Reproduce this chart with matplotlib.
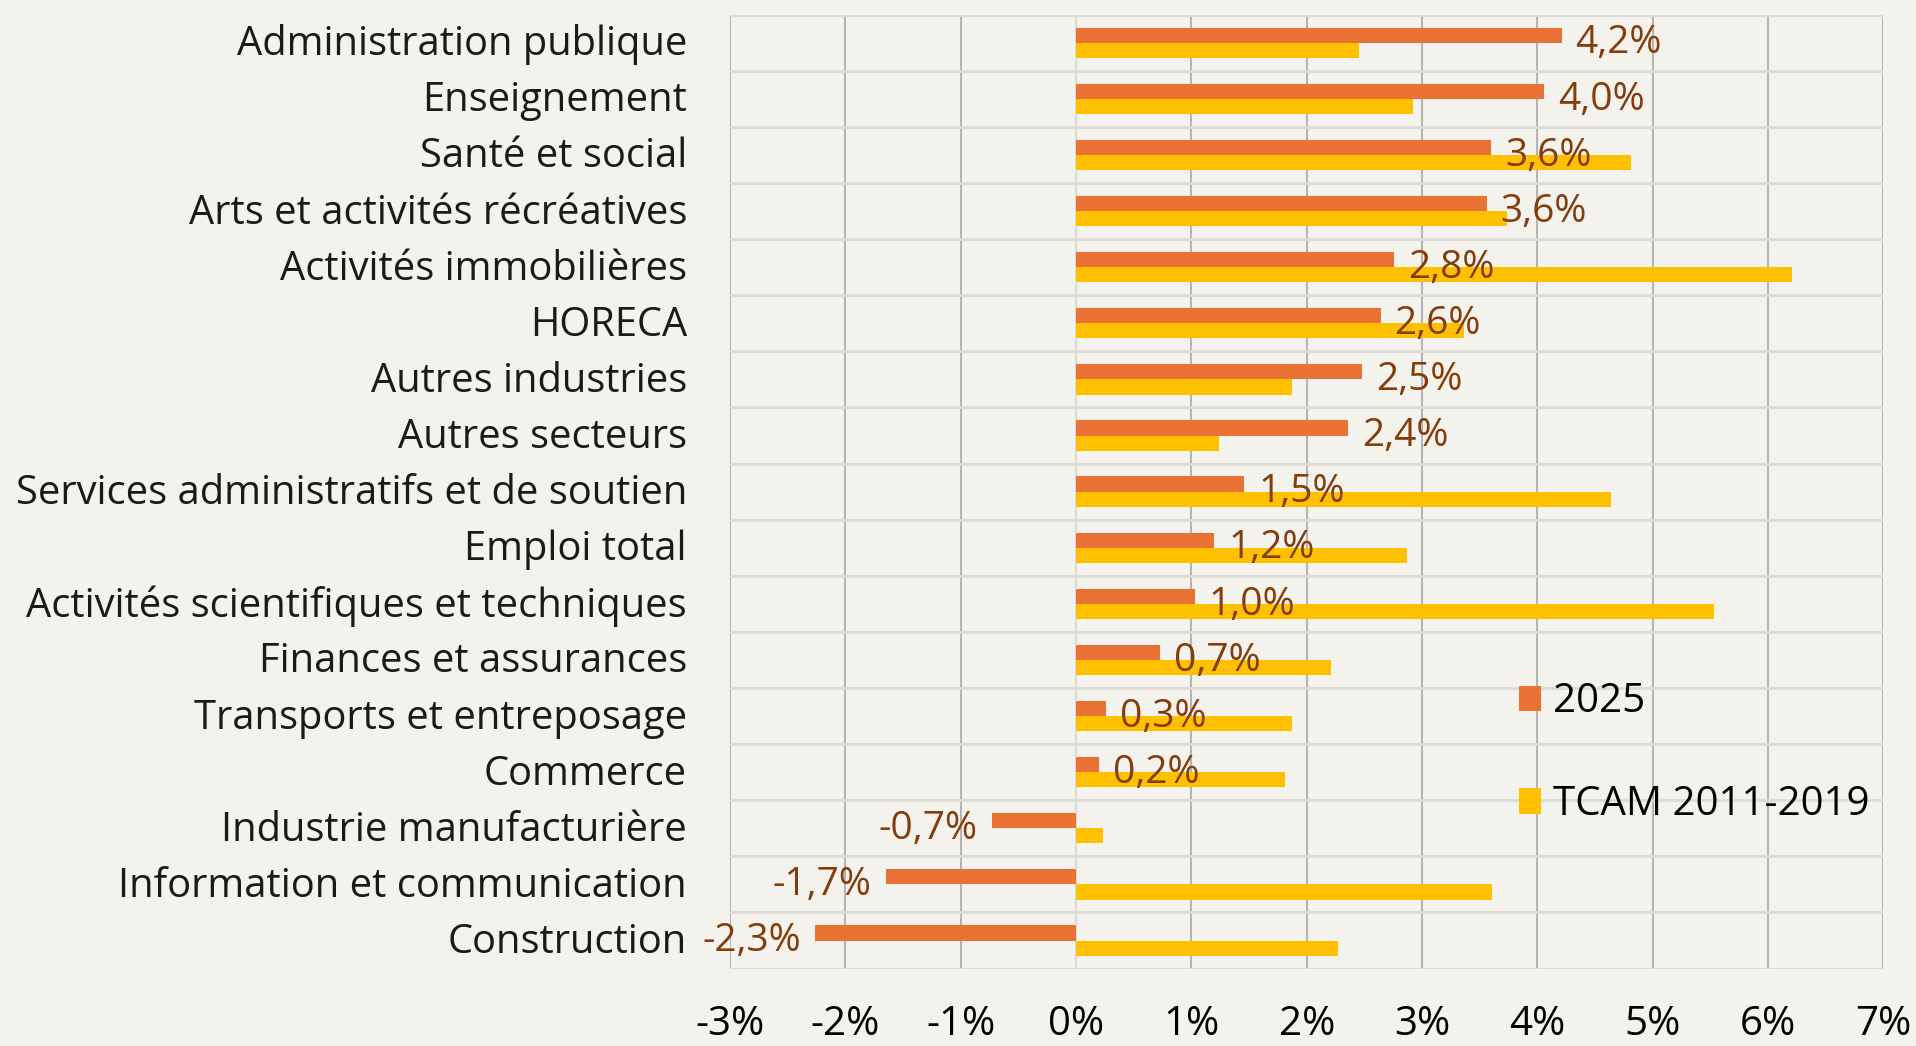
import matplotlib.pyplot as plt
from matplotlib.ticker import FixedLocator
from matplotlib.transforms import ScaledTranslation

plt.rcParams['font.family'] = ['Open Sans', 'DejaVu Sans']

# Données
secteurs = [
    "Administration publique", "Enseignement", "Santé et social",
    "Arts et activités récréatives", "Activités immobilières", "HORECA",
    "Autres industries", "Autres secteurs",
    "Services administratifs et de soutien", "Emploi total",
    "Activités scientifiques et techniques", "Finances et assurances",
    "Transports et entreposage", "Commerce", "Industrie manufacturière",
    "Information et communication", "Construction",
]
val_2025 = [4.21, 4.06, 3.60, 3.56, 2.76, 2.64, 2.48, 2.36, 1.46, 1.20,
            1.03, 0.73, 0.26, 0.20, -0.73, -1.65, -2.26]
etiq_2025 = ["4,2%", "4,0%", "3,6%", "3,6%", "2,8%", "2,6%", "2,5%", "2,4%",
             "1,5%", "1,2%", "1,0%", "0,7%", "0,3%", "0,2%", "-0,7%",
             "-1,7%", "-2,3%"]
val_tcam = [2.45, 2.92, 4.81, 3.74, 6.21, 3.36, 1.87, 1.24, 4.64, 2.87,
            5.53, 2.21, 1.87, 1.81, 0.23, 3.61, 2.27]
x_ticks = [-3, -2, -1, 0, 1, 2, 3, 4, 5, 6, 7]

bg = '#F3F2ED'
orange = '#EA7234'
jaune = '#FFC000'
brun = '#843C0C'

fig = plt.figure(figsize=(19.16, 10.46), dpi=100, facecolor=bg)
ax = fig.add_axes([0.381, 0.074, 0.602, 0.912], facecolor=bg)

y = list(range(len(secteurs)))
h = 0.27
ax.barh([i - h / 2 for i in y], val_2025, height=h, color=orange,
        label='2025', zorder=3)
ax.barh([i + h / 2 for i in y], val_tcam, height=h, color=jaune,
        label='TCAM 2011-2019', zorder=3)

# étiquettes de données
for i, (v, txt) in enumerate(zip(val_2025, etiq_2025)):
    if v >= 0:
        ax.annotate(txt, (v, i - h / 2), xytext=(10, -6),
                    textcoords='offset points', ha='left', va='center',
                    color=brun, fontsize=28, zorder=4)
    else:
        ax.annotate(txt, (v, i - h / 2), xytext=(-10, -6),
                    textcoords='offset points', ha='right', va='center',
                    color=brun, fontsize=28, zorder=4)

ax.set_xlim(-3, 7)
ax.set_ylim(len(secteurs) - 0.5, -0.5)
ax.set_xticks(x_ticks)
ax.set_xticklabels([f"{t}%" for t in x_ticks])
ax.set_yticks(y)
ax.set_yticklabels(secteurs, color='#1A1A1A')
ax.yaxis.set_minor_locator(FixedLocator([i + 0.5 for i in range(-1, len(secteurs))]))

ax.tick_params(axis='x', length=0, pad=26, labelsize=29)
ax.tick_params(axis='y', which='both', length=0, pad=31, labelsize=28.7)

# remonter légèrement les noms de secteurs
decal = ScaledTranslation(0, 2 / 72, fig.dpi_scale_trans)
for lab in ax.get_yticklabels():
    lab.set_transform(lab.get_transform() + decal)

ax.grid(axis='x', color='#B4B4B4', linewidth=1.5, zorder=1)
ax.grid(axis='y', which='minor', color='#DCDBD6', linewidth=2, zorder=1)
ax.grid(axis='y', which='major', visible=False)
for t, gl in zip(x_ticks, ax.xaxis.get_gridlines()):
    if t == 0:
        gl.set_color('#DCDBD6')

for s in ax.spines.values():
    s.set_visible(False)

ax.legend(loc='upper left', bbox_to_anchor=(1519 / 1916, 1 - 682 / 1046),
          bbox_transform=fig.transFigure, frameon=False, fontsize=29,
          handlelength=0.55, handleheight=0.6, handletextpad=0.3,
          labelspacing=1.55, borderpad=0, borderaxespad=0)

fig.savefig('out.png', dpi=100, facecolor=bg)
